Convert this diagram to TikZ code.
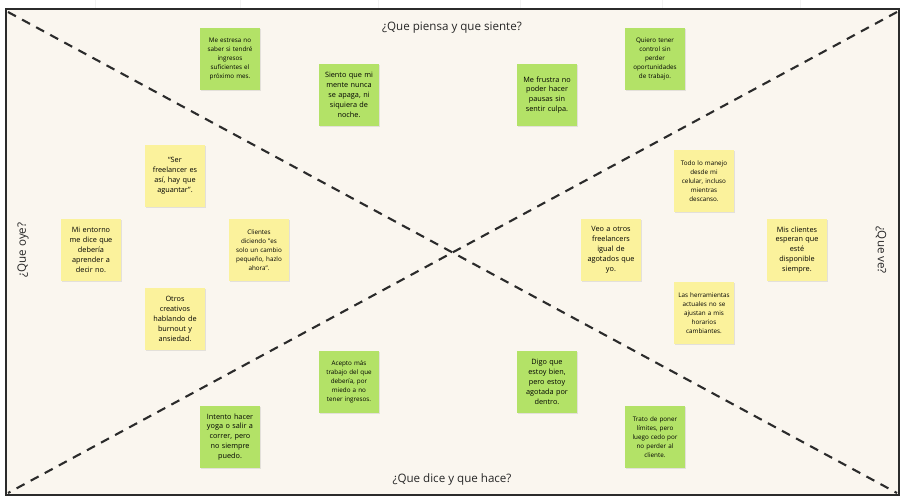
\documentclass[tikz,border=0pt]{standalone}
\usepackage{fontspec}
\setmainfont{Open Sans}
\usetikzlibrary{shadows}
\definecolor{bgin}{HTML}{FAF6EF}
\definecolor{gnote}{HTML}{B3E267}
\definecolor{ynote}{HTML}{FBF29C}
\definecolor{frame}{HTML}{2B2B2B}
\tikzset{
  note/.style={minimum width=60pt, minimum height=62pt, inner sep=1pt, text width=56pt, align=center,
    drop shadow={opacity=0.18, shadow xshift=0.6pt, shadow yshift=-1.4pt}},
  gn/.style={note, fill=gnote},
  yn/.style={note, fill=ynote},
  big/.style={font=\fontsize{7.3}{9.9}\selectfont},
  small/.style={font=\fontsize{6.3}{9.1}\selectfont},
  diag/.style={draw=frame, line width=2.1pt, dash pattern=on 9pt off 7pt},
  title/.style={font=\fontsize{11.6}{13}\selectfont, text=black!85}
}
\begin{document}
\begin{tikzpicture}[x=1pt,y=-1pt]
\useasboundingbox (0,0) rectangle (903,502);
\fill[white] (0,0) rectangle (903,502);
\foreach \gx in {95,240,378,520,662,800} {\draw[black!5, line width=0.4pt] (\gx,0) -- (\gx,8);}
\node[inner sep=0, outer sep=0, fill=bgin, draw=frame, line width=2pt, minimum width=893pt, minimum height=486pt] (board) at (452.5,252.5) {};
\coordinate (tl) at (8,12);
\coordinate (br) at (897,493);
\coordinate (tr) at (897,12);
\coordinate (bl) at (8,493);
\draw[diag] (tl) -- (br);
\draw[diag] (tr) -- (bl);

\node[title] (t1) at (452,28) {¿Que piensa y que siente?};
\node[title] (t2) at (452,479) {¿Que dice y que hace?};
\node[title, rotate=90] (t3) at (23,250) {¿Que oye?};
\node[title, rotate=-90] (t4) at (881,250) {¿Que ve?};

% green notes
\node[gn, small] (g1) at (230,59) {Me estresa no\\saber si tendré\\ingresos\\suficientes el\\próximo mes.};
\node[gn, big] (g2) at (349,95) {Siento que mi\\mente nunca\\se apaga, ni\\siquiera de\\noche.};
\node[gn, big] (g3) at (547,95) {Me frustra no\\poder hacer\\pausas sin\\sentir culpa.};
\node[gn, small] (g4) at (655,59) {Quiero tener\\control sin\\perder\\oportunidades\\de trabajo.};
\node[gn, small] (g5) at (349,382) {Acepto más\\trabajo del que\\debería, por\\miedo a no\\tener ingresos.};
\node[gn, big] (g6) at (230,437) {Intento hacer\\yoga o salir a\\correr, pero\\no siempre\\puedo.};
\node[gn, big] (g7) at (547,382) {Digo que\\estoy bien,\\pero estoy\\agotada por\\dentro.};
\node[gn, small] (g8) at (655,437) {Trato de poner\\límites, pero\\luego cedo por\\no perder al\\cliente.};

% yellow notes
\node[yn, big] (y1) at (175,176) {“Ser\\freelancer es\\así, hay que\\aguantar”.};
\node[yn, small] (y2) at (259,250) {Clientes\\diciendo "es\\solo un cambio\\pequeño, hazlo\\ahora".};
\node[yn, big] (y3) at (175,319) {Otros\\creativos\\hablando de\\burnout y\\ansiedad.};
\node[yn, big] (y4) at (91,250) {Mi entorno\\me dice que\\debería\\aprender a\\decir no.};
\node[yn, small] (y5) at (704,181) {Todo lo manejo\\desde mi\\celular, incluso\\mientras\\descanso.};
\node[yn, big] (y6) at (611,250) {Veo a otros\\freelancers\\igual de\\agotados que\\yo.};
\node[yn, small] (y7) at (704,313) {Las herramientas\\actuales no se\\ajustan a mis\\horarios\\cambiantes.};
\node[yn, big] (y8) at (797,250) {Mis clientes\\esperan que\\esté\\disponible\\siempre.};
\end{tikzpicture}
\end{document}
